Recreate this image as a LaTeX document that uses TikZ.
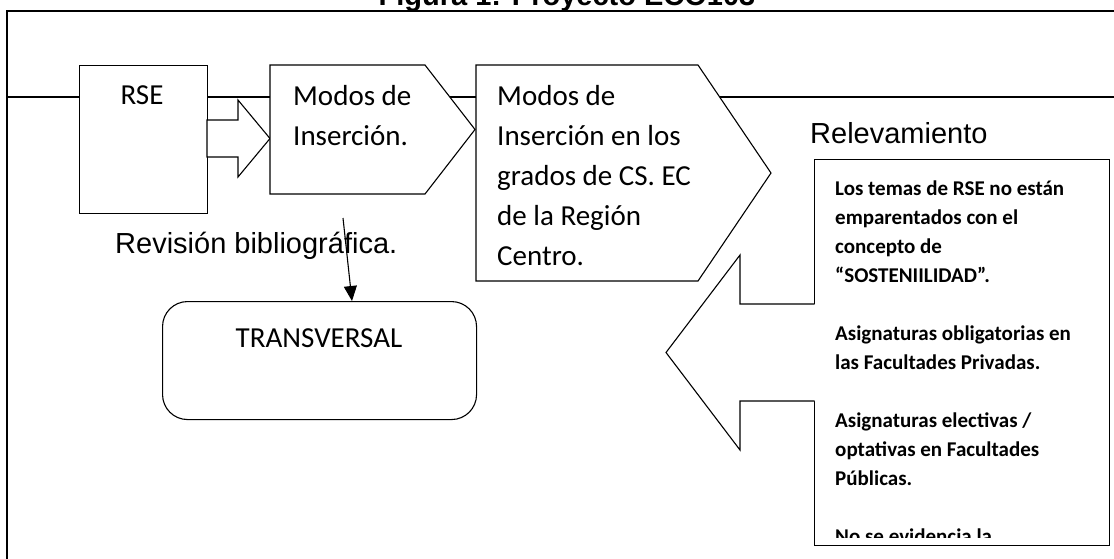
\documentclass[tikz,border=0pt]{standalone}
\usepackage{fontspec}
\setmainfont{Carlito}
\newfontfamily\arialf{Liberation Sans}
\usetikzlibrary{arrows.meta,calc}
\begin{document}
\begin{tikzpicture}[x=1pt,y=-1pt,
  shp/.style={draw=black, fill=white, line width=1.1pt, line join=miter},
  boxlbl/.style={inner sep=0pt, anchor=base west, font=\fontsize{29}{40}\selectfont},
  ariallbl/.style={inner sep=0pt, anchor=base west, font=\arialf\fontsize{29}{35}\selectfont},
  conn/.style={line width=1.1pt, -{Triangle[width=13pt,length=15pt]}}]
\useasboundingbox (0,0) rectangle (1114,558);
% title (cut at top)
\node[inner sep=0pt, anchor=base, font=\arialf\bfseries\fontsize{29}{29}\selectfont] (title) at (567,5) {Figura 1: Proyecto ECO103};
% frame
\coordinate (fbl) at (7,560);
\coordinate (ftl) at (7,11);
\coordinate (ftr) at (1116,11);
\draw[line width=1.5pt] (fbl) -- (ftl) -- (ftr);
% backbone line
\coordinate (bbl) at (7,97);
\coordinate (bbr) at (1116,97);
\draw[line width=1.2pt] (bbl) -- (bbr);
% RSE box
\node[shp, minimum width=128pt, minimum height=148pt, anchor=north west, inner sep=0pt] (rse) at (79,65) {};
\node[inner sep=0pt, anchor=base, font=\fontsize{29}{40}\selectfont] (rsetext) at (142,104) {RSE};
% block arrow RSE -> Modos
\draw[shp] (207,120) -- (238,120) -- (238,100) -- (270,138.5) -- (238,177) -- (238,157) -- (207,157) -- cycle;
% Modos de Insercion pentagon
\draw[shp] (270,65) -- (425,65) -- (475,129.5) -- (425,194) -- (270,194) -- cycle;
\node[boxlbl] (modos) at (293,105) {\parbox[t]{160pt}{\raggedright Modos de\\Inserción.}};
% third pentagon
\draw[shp] (476,65) -- (698,65) -- (771,173) -- (698,281) -- (476,281) -- cycle;
\node[boxlbl] (grados) at (497,105) {\parbox[t]{240pt}{\raggedright Modos de\\Inserción en los\\grados de CS. EC\\de la Región\\Centro.}};
% Relevamiento
\node[ariallbl] (relev) at (810,143) {Relevamiento};
% text box
\node[draw=black, line width=1.3pt, fill=white, minimum width=295pt, minimum height=386pt, anchor=north west, inner sep=0pt] (tb) at (814,159) {};
\begin{scope}
\clip (814,159) rectangle (1109,537);
\node[inner sep=0pt, anchor=base west] (tbtext) at (835,195) {\parbox[t]{272pt}{\bfseries\fontsize{21}{29}\selectfont\raggedright
Los temas de RSE no están\\
emparentados con el\\
concepto de\\
“SOSTENIILIDAD”.\\[29pt]
Asignaturas obligatorias en\\
las Facultades Privadas.\\[29pt]
Asignaturas electivas /\\
optativas en Facultades\\
Públicas.\\[29pt]
No se evidencia la}};
\end{scope}
% left-pointing block arrow
\fill[white] (816,304) -- (740,304) -- (740,255) -- (666,352.5) -- (740,450) -- (740,401) -- (816,401) -- cycle;
\draw[line width=1.1pt, line join=miter] (814.6,304) -- (740,304) -- (740,255) -- (666,352.5) -- (740,450) -- (740,401) -- (814.6,401);
% Revision bibliografica
\node[ariallbl] (revis) at (115,253) {Revisión bibliográfica.};
% TRANSVERSAL
\node[draw=black, line width=1.1pt, rounded corners=25pt, minimum width=314pt, minimum height=118pt, anchor=north west, inner sep=0pt] (tr) at (162,301) {};
\node[inner sep=0pt, anchor=base, font=\fontsize{29}{40}\selectfont] (trtext) at (319,347) {TRANSVERSAL};
% connector
\coordinate (revstart) at (343,218);
\draw[conn] (revstart) -- ($(tr.north west)+(190,0)$);
\end{tikzpicture}
\end{document}
